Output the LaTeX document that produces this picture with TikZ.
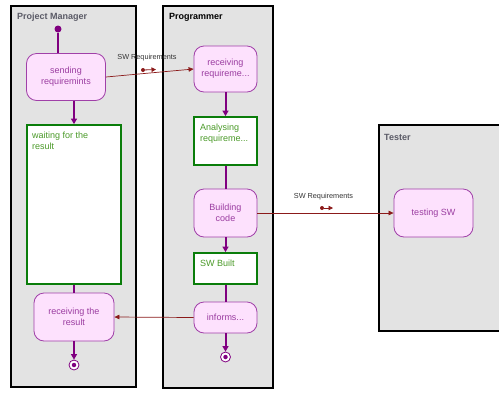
\documentclass[tikz,border=0pt]{standalone}
\usepackage{fontspec}
\setmainfont{Liberation Sans}
\usetikzlibrary{arrows.meta}
\definecolor{lanefill}{HTML}{E3E3E3}
\definecolor{actfill}{HTML}{FDE1FD}
\definecolor{actdraw}{HTML}{A040A8}
\definecolor{acttext}{HTML}{9A3CA0}
\definecolor{ctrl}{HTML}{800080}
\definecolor{objflow}{HTML}{8B1A1A}
\definecolor{grn}{HTML}{0A7D0A}
\definecolor{grntext}{HTML}{4A9A28}
\definecolor{titlegray}{HTML}{5A5A66}
\tikzset{
  lane/.style={draw=black, line width=2.2pt, fill=lanefill},
  lanetitle/.style={anchor=west, font=\fontsize{9}{11}\selectfont\bfseries, inner sep=0pt},
  action/.style={draw=actdraw, line width=0.8pt, fill=actfill, rounded corners=10pt,
    text=acttext, align=center, font=\fontsize{9}{11}\selectfont, inner sep=0pt},
  objnode/.style={draw=grn, line width=1.8pt, fill=white, text=grntext,
    font=\fontsize{9}{11}\selectfont, inner sep=0pt},
  objtext/.style={anchor=north west, text=grntext, font=\fontsize{9}{11}\selectfont, align=left, inner sep=0pt},
  ctrlline/.style={draw=ctrl, line width=2pt},
  ctrlarrow/.style={ctrlline, -{Triangle[width=6pt,length=5.5pt]}},
  objarrow/.style={draw=objflow, line width=0.7pt, -{Triangle[width=4.5pt,length=5pt]}},
  flowlabel/.style={font=\fontsize{7.3}{8}\selectfont, text=black!80, inner sep=0pt},
  initdot/.style={circle, fill=ctrl, minimum size=7pt, inner sep=0pt},
  finalnode/.style={circle, draw=ctrl, line width=0.8pt, fill=white, minimum size=10pt, inner sep=0pt},
  pindot/.style={circle, fill=objflow, minimum size=4pt, inner sep=0pt},
}
\begin{document}
\begin{tikzpicture}[x=1pt, y=-1pt]
\useasboundingbox (0,0) rectangle (499,392);
% lanes
\path[lane] (11,6) rectangle (136,387);
\path[lane] (163,6) rectangle (273,388);
\path[lane] (379,125) rectangle (510,331);
\node[lanetitle, text=titlegray] (tpm) at (17,17) {Project Manager};
\node[lanetitle, text=black] (tprog) at (169,17) {Programmer};
\node[lanetitle, text=titlegray] (ttest) at (384,137) {Tester};

% Project Manager
\node[initdot] (init) at (58,29) {};
\node[action, minimum width=79pt, minimum height=47pt] (send) at (66,77) {sending\\requiremints};
\node[objnode, minimum width=94pt, minimum height=159pt] (wait) at (74,204.5) {};
\node[objtext] (waittxt) at (32,132) {waiting for the\\result};
\node[action, minimum width=80pt, minimum height=48pt] (rcvres) at (74,317) {receiving the\\result};
\node[finalnode] (fpm) at (74,365) {};
\node[circle, fill=ctrl, minimum size=4.5pt, inner sep=0pt] (fpmin) at (fpm) {};

% Programmer
\node[action, minimum width=63pt, minimum height=46pt] (rcvreq) at (225.5,69) {receiving\\requireme...};
\node[objnode, minimum width=63pt, minimum height=48pt] (anal) at (225.5,141) {};
\node[objtext] (analtxt) at (200,124) {Analysing\\requireme...};
\node[action, minimum width=63pt, minimum height=48pt] (build) at (225.5,213) {Building\\code};
\node[objnode, minimum width=63pt, minimum height=31pt] (swb) at (225.5,268.5) {};
\node[objtext] (swbtxt) at (200,260) {SW Built};
\node[action, minimum width=63pt, minimum height=31pt] (inf) at (225.5,317.5) {informs...};
\node[finalnode] (fprog) at (225.5,357) {};
\node[circle, fill=ctrl, minimum size=4.5pt, inner sep=0pt] (fprogin) at (fprog) {};

% Tester
\node[action, minimum width=79pt, minimum height=48pt] (test) at (433.5,213) {testing SW};

% control flows
\draw[ctrlline] (init) -- (init |- send.north);
\draw[ctrlarrow] (wait.north |- send.south) -- (wait.north);
\draw[ctrlline] (wait.south) -- (rcvres.north);
\draw[ctrlarrow] (rcvres.south) -- (fpm.north);
\draw[ctrlarrow] (rcvreq.south) -- (anal.north);
\draw[ctrlline] (anal.south) -- (build.north);
\draw[ctrlarrow] (build.south) -- (swb.north);
\draw[ctrlline] (swb.south) -- (inf.north);
\draw[ctrlarrow] (inf.south) -- (fprog.north);

% object flows
\draw[objarrow] (send.east) -- (rcvreq.west);
\draw[objarrow] (build.east) -- (test.west);
\draw[objarrow] (inf.west) -- (rcvres.east);

% object flow labels and pins
\node[flowlabel] (lab1) at (147,58) {SW Requirements};
\node[pindot] (p1a) at (143,70) {};
\coordinate (p1b) at (156,69.5);
\draw[objflow, line width=0.8pt, -{Triangle[width=4.5pt,length=4.5pt]}] (p1a) -- (p1b);
\node[flowlabel] (lab2) at (323.5,197) {SW Requirements};
\node[pindot] (p2a) at (322,208) {};
\coordinate (p2b) at (333,208);
\draw[objflow, line width=0.8pt, -{Triangle[width=4.5pt,length=4.5pt]}] (p2a) -- (p2b);
\end{tikzpicture}
\end{document}
